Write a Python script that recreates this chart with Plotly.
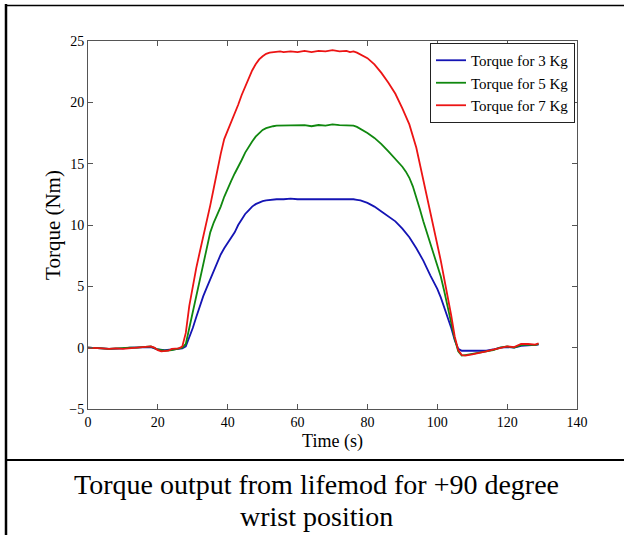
import plotly.graph_objects as go

# ---------------- data ----------------
t_3kg = [0, 2, 4, 6, 8, 10, 12, 14, 16, 18, 20, 22, 24, 26, 27, 28, 29, 30, 31, 32, 33, 34, 35, 36, 37, 38, 39, 40,
         41, 42, 43, 44, 45, 46, 47, 48, 49, 50, 51, 52, 53, 54, 56, 58, 60, 62, 64, 66, 68, 70, 72, 74, 76, 77, 78,
         80, 82, 84, 86, 88, 90, 92, 94, 96, 98, 100, 101, 102, 103, 104, 105, 106, 107, 108, 110, 112, 114, 116,
         118, 120, 122, 124, 126, 128, 129]
v_3kg = [0.0, 0.0, -0.05, -0.1, -0.1, -0.05, 0.0, 0.0, 0.05, 0.05, -0.15, -0.2, -0.15, -0.1, -0.05, 0.1, 0.8, 1.6,
         2.5, 3.4, 4.2, 4.9, 5.6, 6.3, 7.0, 7.6, 8.1, 8.5, 8.9, 9.4, 10.0, 10.5, 10.9, 11.2, 11.5, 11.7, 11.85, 11.95,
         12.0, 12.05, 12.1, 12.1, 12.1, 12.15, 12.1, 12.1, 12.15, 12.1, 12.1, 12.15, 12.1, 12.15, 12.1, 12.05, 12.0,
         11.8, 11.5, 11.1, 10.7, 10.3, 9.7, 9.0, 8.1, 7.1, 5.9, 4.8, 4.1, 3.3, 2.5, 1.6, 0.6, -0.1, -0.25, -0.25,
         -0.2, -0.2, -0.25, -0.15, 0.0, 0.05, 0.0, 0.15, 0.2, 0.2, 0.25]

t_5kg = [0, 2, 4, 6, 8, 10, 12, 14, 16, 18, 20, 22, 24, 26, 27, 28, 29, 30, 31, 32, 33, 34, 35, 36, 37, 38, 39, 40,
         41, 42, 43, 44, 45, 46, 47, 48, 49, 50, 51, 52, 53, 54, 56, 58, 60, 62, 64, 66, 68, 70, 72, 74, 76, 77, 78,
         80, 82, 84, 86, 88, 90, 91, 92, 93, 94, 95, 96, 97, 98, 100, 101, 102, 103, 104, 105, 106, 107, 108, 110,
         112, 114, 116, 118, 120, 122, 124, 126, 128, 129]
v_5kg = [0.0, 0.0, -0.05, -0.1, -0.05, -0.05, 0.0, 0.0, 0.05, 0.1, -0.15, -0.25, -0.2, -0.1, 0.0, 0.3, 1.6, 3.0,
         4.4, 5.7, 7.0, 8.3, 9.4, 10.2, 10.8, 11.5, 12.3, 13.0, 13.6, 14.2, 14.7, 15.3, 15.9, 16.4, 16.8, 17.2, 17.5,
         17.75, 17.9, 18.0, 18.05, 18.1, 18.1, 18.15, 18.1, 18.15, 18.05, 18.15, 18.1, 18.2, 18.15, 18.15, 18.1,
         18.0, 17.85, 17.5, 17.1, 16.6, 16.0, 15.4, 14.75, 14.35, 13.85, 13.15, 12.3, 11.3, 10.3, 9.4, 8.5, 6.6, 5.8,
         4.6, 3.3, 2.0, 0.7, -0.3, -0.65, -0.6, -0.5, -0.45, -0.35, -0.2, 0.0, 0.1, 0.0, 0.2, 0.25, 0.2, 0.3]

t_7kg = [0, 2, 4, 6, 8, 10, 12, 14, 16, 18, 19, 20, 21, 22, 23, 24, 25, 26, 27, 28, 29, 30, 31, 32, 33, 34, 35, 36,
         37, 38, 39, 40, 41, 42, 43, 44, 45, 46, 47, 48, 49, 50, 51, 52, 53, 54, 55, 56, 58, 60, 62, 64, 66, 68,
         70, 72, 74, 75, 76, 77, 78, 80, 82, 84, 86, 88, 90, 92, 94, 96, 98, 100, 101, 102, 103, 104, 105, 106,
         107, 108, 110, 112, 114, 116, 118, 120, 122, 124, 126, 128, 129]
v_7kg = [0.0, 0.0, -0.05, -0.1, -0.05, -0.1, -0.05, 0.0, 0.05, 0.1, 0.0, -0.2, -0.3, -0.3, -0.25, -0.1, -0.1, -0.05,
         0.1, 1.2, 3.4, 5.0, 6.5, 7.8, 9.0, 10.2, 11.6, 13.0, 14.5, 15.8, 17.0, 17.7, 18.3, 19.0, 19.8, 20.6, 21.3,
         22.0, 22.6, 23.1, 23.5, 23.75, 23.95, 24.05, 24.1, 24.1, 24.15, 24.1, 24.15, 24.1, 24.2, 24.1, 24.2,
         24.15, 24.25, 24.15, 24.2, 24.1, 24.15, 24.05, 23.9, 23.6, 23.1, 22.4, 21.6, 20.7, 19.5, 18.2, 16.3,
         13.7, 10.9, 8.3, 7.1, 5.6, 4.2, 2.6, 0.9, -0.2, -0.6, -0.65, -0.55, -0.45, -0.3, -0.15, 0.0, 0.1, 0.05,
         0.3, 0.3, 0.25, 0.35]

series_names = ["Torque for 3 Kg", "Torque for 5 Kg", "Torque for 7 Kg"]
series_colors = ["#1414b4", "#10880f", "#ec1414"]

x_ticks = [0, 20, 40, 60, 80, 100, 120, 140]
y_ticks = [-5, 0, 5, 10, 15, 20, 25]

x_title = "Time (s)"
y_title = "Torque (Nm)"
caption_lines = ["Torque output from lifemod for +90 degree", "wrist position"]

# ---------------- layout geometry (pixels) ----------------
W, H = 624, 535
PL, PR, PT, PB = 88, 577, 41, 409   # plot-area edges


def px(x):
    return (x - PL) / (PR - PL)


def py(y):
    return (PB - y) / (PB - PT)


SERIF = "Liberation Serif, Times New Roman, serif"

fig = go.Figure()
for tt, vv, name, col in zip([t_3kg, t_5kg, t_7kg], [v_3kg, v_5kg, v_7kg], series_names, series_colors):
    fig.add_trace(go.Scatter(x=tt, y=vv, mode="lines", name=name,
                             line=dict(color=col, width=1.8)))

axis_common = dict(showline=True, linecolor="#555555", linewidth=1, mirror="ticks",
                   ticks="inside", ticklen=5, tickcolor="#555555", showgrid=False,
                   zeroline=False, tickfont=dict(family=SERIF, size=14, color="black"))

fig.update_layout(
    width=W, height=H,
    margin=dict(l=PL, r=W - PR, t=PT, b=H - PB, pad=0),
    paper_bgcolor="white", plot_bgcolor="white",
    xaxis=dict(range=[0, 140], tickvals=x_ticks, **axis_common,
               title=dict(text=x_title, font=dict(family=SERIF, size=18, color="black"), standoff=5)),
    yaxis=dict(range=[-5, 25], tickvals=y_ticks, **axis_common,
               title=dict(text=y_title, font=dict(family=SERIF, size=21, color="black"), standoff=2)),
    legend=dict(x=px(575), xanchor="right", y=py(43), yanchor="top",
                bgcolor="white", bordercolor="#222222", borderwidth=1,
                font=dict(family=SERIF, size=15, color="black"),
                tracegroupgap=0),
    showlegend=True,
)

# frame lines of the figure box
shapes = [
    dict(type="line", xref="paper", yref="paper", x0=px(6), x1=px(6), y0=py(4), y1=py(535),
         line=dict(color="black", width=2.5)),
    dict(type="line", xref="paper", yref="paper", x0=px(5), x1=px(624), y0=py(5.5), y1=py(5.5),
         line=dict(color="black", width=1.5)),
    dict(type="line", xref="paper", yref="paper", x0=px(5), x1=px(624), y0=py(460), y1=py(460),
         line=dict(color="black", width=2.2)),
]
fig.update_layout(shapes=shapes)

fig.add_annotation(text=caption_lines[0], xref="paper", yref="paper", x=px(316), y=py(484),
                   xanchor="center", yanchor="middle", showarrow=False,
                   font=dict(family=SERIF, size=28, color="black"))
fig.add_annotation(text=caption_lines[1], xref="paper", yref="paper", x=px(316), y=py(516),
                   xanchor="center", yanchor="middle", showarrow=False,
                   font=dict(family=SERIF, size=28, color="black"))

fig.write_html("out.html")
